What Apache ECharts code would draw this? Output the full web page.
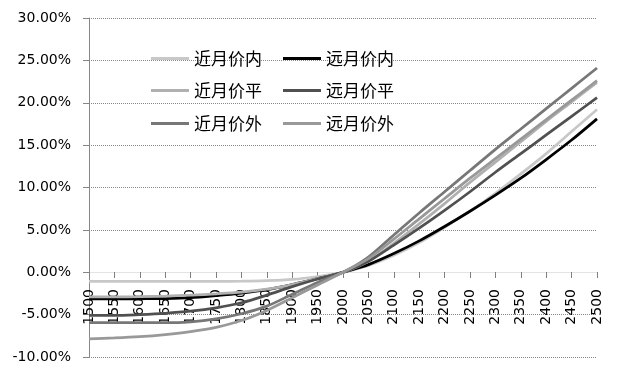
<!DOCTYPE html>
<html><head><meta charset="utf-8">
<script src="https://cdn.jsdelivr.net/npm/echarts@6/dist/echarts.min.js"></script>
<style>html,body{margin:0;padding:0;background:#fff}#c{width:628px;height:372px}</style>
</head><body><div id="c"></div>
<script>
const categories = ['1500','1550','1600','1650','1700','1750','1800','1850','1900','1950','2000','2050','2100','2150','2200','2250','2300','2350','2400','2450','2500'];
const nearITM = [-1.07,-1.07,-1.07,-1.07,-1.07,-1.07,-1.06,-1.0,-0.85,-0.5,0,0.8,2.0,3.5,5.3,7.2,9.3,11.6,14.0,16.6,19.2];
const farITM  = [-3.15,-3.15,-3.13,-3.1,-3.0,-2.75,-2.45,-2.05,-1.45,-0.75,0,0.9,2.2,3.7,5.4,7.2,9.1,11.1,13.3,15.6,18.1];
const nearATM = [-2.9,-2.9,-2.88,-2.82,-2.7,-2.55,-2.35,-2.0,-1.45,-0.75,0,1.3,3.4,5.7,8.1,10.6,13.0,15.4,17.8,20.1,22.4];
const farATM  = [-5.1,-5.1,-5.0,-4.85,-4.6,-4.2,-3.6,-2.7,-1.7,-0.8,0,1.3,3.2,5.2,7.3,9.5,11.8,14.0,16.2,18.4,20.6];
const nearOTM = [-5.95,-5.95,-5.95,-5.95,-5.85,-5.5,-4.9,-4.0,-2.6,-1.2,0,1.8,4.4,7.0,9.5,12.0,14.5,16.9,19.3,21.7,24.1];
const farOTM  = [-7.85,-7.75,-7.6,-7.35,-7.0,-6.5,-5.7,-4.5,-3.0,-1.5,0,1.6,3.9,6.3,8.7,11.1,13.4,15.7,18.0,20.3,22.6];
const names = ['近月价内','远月价内','近月价平','远月价平','近月价外','远月价外'];
const colors = ['#c8c8c8','#000000','#b0b0b0','#505050','#777777','#999999'];
const seriesData = [nearITM, farITM, nearATM, farATM, nearOTM, farOTM];

const chart = echarts.init(document.getElementById('c'));
const legendPos = [[146,45],[278,45],[146,77],[278,77],[146,110],[278,110]];
const legends = names.map((n,i)=>({
  data:[n], left:legendPos[i][0], top:legendPos[i][1],
  icon:'rect', itemWidth:38, itemHeight:3,
  textStyle:{fontFamily:'Noto Sans CJK SC', fontSize:17, color:'#000'}
}));
const yMin = -10, yMax = 30;
const gridTop = 18, gridBottom = 15, H = 372;
const plotH = H - gridTop - gridBottom;
const zeroOffset = -Math.round(plotH * (0 - yMin) / (yMax - yMin));
chart.setOption({
  animation:false,
  color: colors,
  legend: legends,
  grid:{left:89, right:31, top:gridTop, bottom:gridBottom, containLabel:false, outerBoundsMode:'none'},
  xAxis:{
    type:'category', data:categories, boundaryGap:false, position:'bottom', offset: zeroOffset,
    axisLine:{show:true, onZero:false, lineStyle:{color:'#e4e4e4'}},
    axisTick:{show:true, length:6, lineStyle:{color:'#808080'}},
    axisLabel:{rotate:90, margin:17, fontFamily:'DejaVu Sans', fontSize:14, color:'#000', interval:0},
    splitLine:{show:false}
  },
  yAxis:{
    type:'value', min:yMin, max:yMax, interval:5,
    axisLine:{show:true, lineStyle:{color:'#868686'}},
    axisTick:{show:true, length:6, lineStyle:{color:'#868686'}},
    axisLabel:{margin:18, fontFamily:'DejaVu Sans', fontSize:14, color:'#000', formatter:v=>v.toFixed(2)+'%'},
    splitLine:{show:true, lineStyle:{color:'#888', type:[1,1], width:1}}
  },
  series: names.map((n,i)=>({
    name:n, type:'line', data:seriesData[i], symbol:'none', smooth:0.3,
    lineStyle:{width:2.75, color:colors[i]}, itemStyle:{color:colors[i]}
  }))
});
</script></body></html>
